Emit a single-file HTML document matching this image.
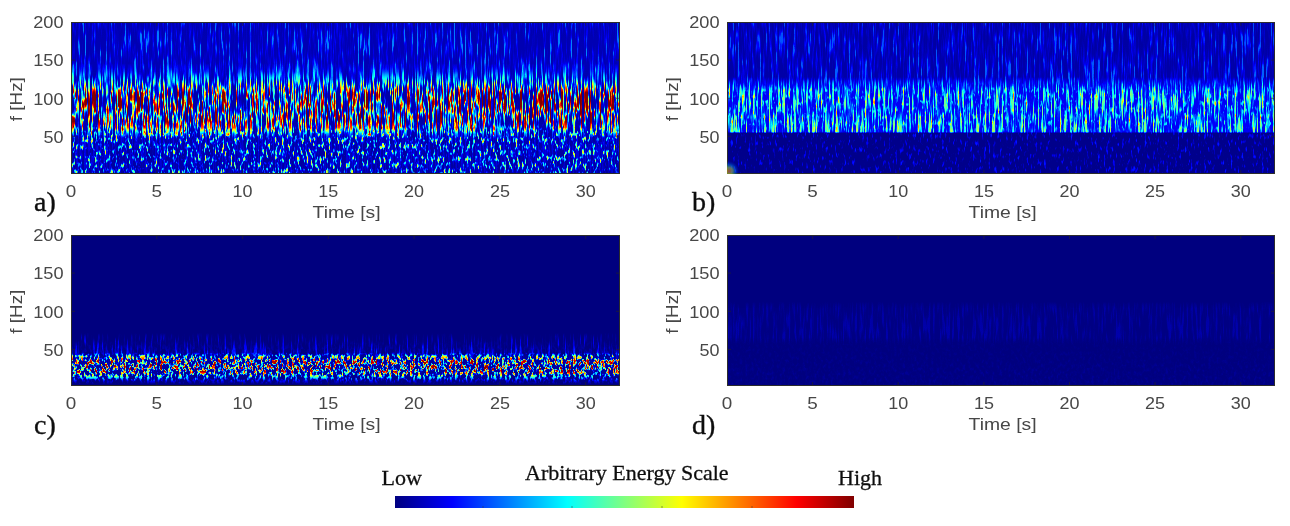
<!DOCTYPE html><html><head><meta charset="utf-8"><style>html,body{margin:0;padding:0;background:#fff;}svg{display:block}</style></head><body>
<svg width="1290" height="526" viewBox="0 0 1290 526">
<defs>
<linearGradient id="jet" x1="0" x2="1" y1="0" y2="0"><stop offset="0" stop-color="#000080"/><stop offset="0.125" stop-color="#0000ff"/><stop offset="0.375" stop-color="#00ffff"/><stop offset="0.625" stop-color="#ffff00"/><stop offset="0.875" stop-color="#ff0000"/><stop offset="1" stop-color="#800000"/></linearGradient>
<linearGradient id="enva" gradientUnits="userSpaceOnUse" x1="0" y1="22" x2="0" y2="174">
<stop offset="0.0000" stop-color="rgb(0,61,0)"/>
<stop offset="0.2720" stop-color="rgb(0,66,0)"/>
<stop offset="0.3274" stop-color="rgb(36,56,0)"/>
<stop offset="0.3777" stop-color="rgb(97,36,0)"/>
<stop offset="0.4230" stop-color="rgb(184,13,0)"/>
<stop offset="0.4633" stop-color="rgb(255,0,0)"/>
<stop offset="0.6547" stop-color="rgb(255,0,0)"/>
<stop offset="0.6950" stop-color="rgb(204,0,76)"/>
<stop offset="0.7302" stop-color="rgb(76,0,166)"/>
<stop offset="0.7655" stop-color="rgb(20,0,153)"/>
<stop offset="1.0000" stop-color="rgb(13,0,140)"/>
</linearGradient>
<filter id="spa" filterUnits="userSpaceOnUse" x="71" y="22" width="549" height="152" color-interpolation-filters="sRGB"><feTurbulence type="fractalNoise" baseFrequency="0.52 0.035" numOctaves="3" seed="3" result="n1"/><feColorMatrix in="n1" type="matrix" values="3.6 0 0 0 -1.400  0 3.0 0 0 -1.200  0 0 0 0 0  0 0 0 0 1" result="c1"/><feComponentTransfer in="c1" result="p1"><feFuncR type="table" tableValues="0.04 0.06 0.11 0.22 0.38 0.58 0.8 0.95 1"/><feFuncG type="table" tableValues="0.2 0.22 0.25 0.3 0.38 0.5 0.7 1"/></feComponentTransfer><feTurbulence type="fractalNoise" baseFrequency="0.45 0.16" numOctaves="2" seed="7" result="n2"/><feColorMatrix in="n2" type="matrix" values="0 0 0 0 0  0 0 0 0 0  4.0 0 0 0 -2.000  0 0 0 0 1" result="c2"/><feComponentTransfer in="c2" result="p2"><feFuncB type="table" tableValues="0.05 0.1 0.18 0.3 0.46 0.64 0.82 1"/></feComponentTransfer><feComposite in="p1" in2="p2" operator="arithmetic" k1="0" k2="1" k3="1" k4="0" result="q"/><feComposite in="q" in2="SourceGraphic" operator="arithmetic" k1="1" k2="0" k3="0" k4="0" result="m"/><feColorMatrix in="m" type="matrix" values="1 1 1 0 0  1 1 1 0 0  1 1 1 0 0  0 0 0 0 1" result="v"/><feComponentTransfer in="v"><feFuncR type="table" tableValues="0 0 0 0 0.5 1 1 1 0.5"/><feFuncG type="table" tableValues="0 0 0.5 1 1 1 0.5 0 0"/><feFuncB type="table" tableValues="0.5 1 1 1 0.5 0 0 0 0"/><feFuncA type="linear" slope="0" intercept="1"/></feComponentTransfer><feGaussianBlur stdDeviation="0.6 0.4"/></filter>
<linearGradient id="envb" gradientUnits="userSpaceOnUse" x1="0" y1="22" x2="0" y2="174">
<stop offset="0.0000" stop-color="rgb(0,51,0)"/>
<stop offset="0.3626" stop-color="rgb(0,56,0)"/>
<stop offset="0.4029" stop-color="rgb(71,26,13)"/>
<stop offset="0.4533" stop-color="rgb(115,0,76)"/>
<stop offset="0.6849" stop-color="rgb(120,0,76)"/>
<stop offset="0.7202" stop-color="rgb(133,0,26)"/>
<stop offset="0.7328" stop-color="rgb(0,0,38)"/>
<stop offset="1.0000" stop-color="rgb(0,0,38)"/>
</linearGradient>
<filter id="spb" filterUnits="userSpaceOnUse" x="727" y="22" width="548" height="152" color-interpolation-filters="sRGB"><feTurbulence type="fractalNoise" baseFrequency="0.55 0.035" numOctaves="3" seed="11" result="n1"/><feColorMatrix in="n1" type="matrix" values="3.6 0 0 0 -1.500  0 3.0 0 0 -1.150  0 0 0 0 0  0 0 0 0 1" result="c1"/><feComponentTransfer in="c1" result="p1"><feFuncR type="table" tableValues="0.2 0.22 0.28 0.4 0.56 0.7 0.85 1"/><feFuncG type="table" tableValues="0.18 0.2 0.24 0.3 0.38 0.5 0.7 1"/></feComponentTransfer><feTurbulence type="fractalNoise" baseFrequency="0.45 0.15" numOctaves="2" seed="13" result="n2"/><feColorMatrix in="n2" type="matrix" values="0 0 0 0 0  0 0 0 0 0  4.0 0 0 0 -2.200  0 0 0 0 1" result="c2"/><feComponentTransfer in="c2" result="p2"><feFuncB type="table" tableValues="0.08 0.15 0.3 0.5 0.7 0.85 1"/></feComponentTransfer><feComposite in="p1" in2="p2" operator="arithmetic" k1="0" k2="1" k3="1" k4="0" result="q"/><feComposite in="q" in2="SourceGraphic" operator="arithmetic" k1="1" k2="0" k3="0" k4="0" result="m"/><feColorMatrix in="m" type="matrix" values="1 1 1 0 0  1 1 1 0 0  1 1 1 0 0  0 0 0 0 1" result="v"/><feComponentTransfer in="v"><feFuncR type="table" tableValues="0 0 0 0 0.5 1 1 1 0.5"/><feFuncG type="table" tableValues="0 0 0.5 1 1 1 0.5 0 0"/><feFuncB type="table" tableValues="0.5 1 1 1 0.5 0 0 0 0"/><feFuncA type="linear" slope="0" intercept="1"/></feComponentTransfer><feGaussianBlur stdDeviation="0.6 0.4"/></filter>
<linearGradient id="envc" gradientUnits="userSpaceOnUse" x1="0" y1="235" x2="0" y2="386">
<stop offset="0.0000" stop-color="rgb(0,0,0)"/>
<stop offset="0.6489" stop-color="rgb(0,0,0)"/>
<stop offset="0.6996" stop-color="rgb(0,26,0)"/>
<stop offset="0.7807" stop-color="rgb(0,36,13)"/>
<stop offset="0.8010" stop-color="rgb(0,20,153)"/>
<stop offset="0.8314" stop-color="rgb(0,8,242)"/>
<stop offset="0.9024" stop-color="rgb(0,0,255)"/>
<stop offset="0.9277" stop-color="rgb(0,0,166)"/>
<stop offset="0.9480" stop-color="rgb(0,0,89)"/>
<stop offset="0.9683" stop-color="rgb(0,0,31)"/>
<stop offset="0.9886" stop-color="rgb(0,0,0)"/>
<stop offset="1.0000" stop-color="rgb(0,0,0)"/>
</linearGradient>
<filter id="spc" filterUnits="userSpaceOnUse" x="71" y="235" width="549" height="151" color-interpolation-filters="sRGB"><feTurbulence type="fractalNoise" baseFrequency="0.45 0.035" numOctaves="3" seed="17" result="n1"/><feColorMatrix in="n1" type="matrix" values="3.0 0 0 0 -1.100  0 4.0 0 0 -1.800  0 0 0 0 0  0 0 0 0 1" result="c1"/><feComponentTransfer in="c1" result="p1"><feFuncR type="table" tableValues="0 0.1 0.3 0.6 1"/><feFuncG type="table" tableValues="0 0 0.05 0.15 0.35 0.6 1"/></feComponentTransfer><feTurbulence type="fractalNoise" baseFrequency="0.38 0.2" numOctaves="2" seed="19" result="n2"/><feColorMatrix in="n2" type="matrix" values="0 0 0 0 0  0 0 0 0 0  4.0 0 0 0 -1.780  0 0 0 0 1" result="c2"/><feComponentTransfer in="c2" result="p2"><feFuncB type="table" tableValues="0.03 0.1 0.26 0.44 0.64 0.84 0.95 1"/></feComponentTransfer><feComposite in="p1" in2="p2" operator="arithmetic" k1="0" k2="1" k3="1" k4="0" result="q"/><feComposite in="q" in2="SourceGraphic" operator="arithmetic" k1="1" k2="0" k3="0" k4="0" result="m"/><feColorMatrix in="m" type="matrix" values="1 1 1 0 0  1 1 1 0 0  1 1 1 0 0  0 0 0 0 1" result="v"/><feComponentTransfer in="v"><feFuncR type="table" tableValues="0 0 0 0 0.5 1 1 1 0.5"/><feFuncG type="table" tableValues="0 0 0.5 1 1 1 0.5 0 0"/><feFuncB type="table" tableValues="0.5 1 1 1 0.5 0 0 0 0"/><feFuncA type="linear" slope="0" intercept="1"/></feComponentTransfer><feGaussianBlur stdDeviation="0.6 0.4"/></filter>
<linearGradient id="envd" gradientUnits="userSpaceOnUse" x1="0" y1="235" x2="0" y2="386">
<stop offset="0.0000" stop-color="rgb(0,0,0)"/>
<stop offset="0.4410" stop-color="rgb(0,0,0)"/>
<stop offset="0.4867" stop-color="rgb(9,0,0)"/>
<stop offset="0.6793" stop-color="rgb(11,0,0)"/>
<stop offset="0.7097" stop-color="rgb(3,0,1)"/>
<stop offset="0.7300" stop-color="rgb(0,0,2)"/>
<stop offset="0.9125" stop-color="rgb(0,0,5)"/>
<stop offset="1.0000" stop-color="rgb(0,0,5)"/>
</linearGradient>
<filter id="spd" filterUnits="userSpaceOnUse" x="727" y="235" width="548" height="151" color-interpolation-filters="sRGB"><feTurbulence type="fractalNoise" baseFrequency="0.45 0.035" numOctaves="3" seed="23" result="n1"/><feColorMatrix in="n1" type="matrix" values="3.4 0 0 0 -1.300  0 4.0 0 0 -1.800  0 0 0 0 0  0 0 0 0 1" result="c1"/><feComponentTransfer in="c1" result="p1"><feFuncR type="table" tableValues="0.06 0.1 0.2 0.38 0.65 1"/><feFuncG type="table" tableValues="0 1"/></feComponentTransfer><feTurbulence type="fractalNoise" baseFrequency="0.35 0.25" numOctaves="2" seed="29" result="n2"/><feColorMatrix in="n2" type="matrix" values="0 0 0 0 0  0 0 0 0 0  3.5 0 0 0 -1.550  0 0 0 0 1" result="c2"/><feComponentTransfer in="c2" result="p2"><feFuncB type="table" tableValues="0.05 0.2 0.5 1"/></feComponentTransfer><feComposite in="p1" in2="p2" operator="arithmetic" k1="0" k2="1" k3="1" k4="0" result="q"/><feComposite in="q" in2="SourceGraphic" operator="arithmetic" k1="1" k2="0" k3="0" k4="0" result="m"/><feColorMatrix in="m" type="matrix" values="1 1 1 0 0  1 1 1 0 0  1 1 1 0 0  0 0 0 0 1" result="v"/><feComponentTransfer in="v"><feFuncR type="table" tableValues="0 0 0 0 0.5 1 1 1 0.5"/><feFuncG type="table" tableValues="0 0 0.5 1 1 1 0.5 0 0"/><feFuncB type="table" tableValues="0.5 1 1 1 0.5 0 0 0 0"/><feFuncA type="linear" slope="0" intercept="1"/></feComponentTransfer><feGaussianBlur stdDeviation="0.6 0.4"/></filter>
<filter id="soft" x="-2%" y="-2%" width="104%" height="104%"><feGaussianBlur stdDeviation="0.35"/></filter>
</defs>
<rect width="1290" height="526" fill="#fff"/>
<rect x="71" y="22" width="549" height="152" fill="url(#enva)" filter="url(#spa)"/>
<path d="M156.8 22v4M156.8 174v-4M242.6 22v4M242.6 174v-4M328.3 22v4M328.3 174v-4M414.1 22v4M414.1 174v-4M499.9 22v4M499.9 174v-4M585.7 22v4M585.7 174v-4M71 60.1h4M620 60.1h-4M71 98.3h4M620 98.3h-4M71 136.4h4M620 136.4h-4" stroke="#262626" stroke-width="1" fill="none" opacity="0.6"/>
<rect x="71.5" y="22.5" width="548" height="151" fill="none" stroke="#2c2c2c" stroke-width="1"/>
<rect x="727" y="22" width="548" height="152" fill="url(#envb)" filter="url(#spb)"/>
<path d="M812.6 22v4M812.6 174v-4M898.2 22v4M898.2 174v-4M983.9 22v4M983.9 174v-4M1069.5 22v4M1069.5 174v-4M1155.1 22v4M1155.1 174v-4M1240.8 22v4M1240.8 174v-4M727 60.1h4M1275 60.1h-4M727 98.3h4M1275 98.3h-4M727 136.4h4M1275 136.4h-4" stroke="#262626" stroke-width="1" fill="none" opacity="0.6"/>
<rect x="727.5" y="22.5" width="547" height="151" fill="none" stroke="#2c2c2c" stroke-width="1"/>
<rect x="71" y="235" width="549" height="151" fill="url(#envc)" filter="url(#spc)"/>
<path d="M156.8 235v4M156.8 386v-4M242.6 235v4M242.6 386v-4M328.3 235v4M328.3 386v-4M414.1 235v4M414.1 386v-4M499.9 235v4M499.9 386v-4M585.7 235v4M585.7 386v-4M71 273.1h4M620 273.1h-4M71 311.3h4M620 311.3h-4M71 349.4h4M620 349.4h-4" stroke="#262626" stroke-width="1" fill="none" opacity="0.6"/>
<rect x="71.5" y="235.5" width="548" height="150" fill="none" stroke="#2c2c2c" stroke-width="1"/>
<rect x="727" y="235" width="548" height="151" fill="url(#envd)" filter="url(#spd)"/>
<path d="M812.6 235v4M812.6 386v-4M898.2 235v4M898.2 386v-4M983.9 235v4M983.9 386v-4M1069.5 235v4M1069.5 386v-4M1155.1 235v4M1155.1 386v-4M1240.8 235v4M1240.8 386v-4M727 273.1h4M1275 273.1h-4M727 311.3h4M1275 311.3h-4M727 349.4h4M1275 349.4h-4" stroke="#262626" stroke-width="1" fill="none" opacity="0.6"/>
<rect x="727.5" y="235.5" width="547" height="150" fill="none" stroke="#2c2c2c" stroke-width="1"/>
<radialGradient id="cb" cx="729" cy="171" r="10" gradientUnits="userSpaceOnUse"><stop offset="0" stop-color="#ff8000" stop-opacity="0.6"/><stop offset="0.35" stop-color="#c0ff40" stop-opacity="0.45"/><stop offset="0.65" stop-color="#00c0ff" stop-opacity="0.3"/><stop offset="1" stop-color="#0040ff" stop-opacity="0"/></radialGradient>
<rect x="727" y="158" width="16" height="16" fill="url(#cb)"/>
<rect x="395" y="496" width="459" height="12" fill="url(#jet)"/>
<path d="M483 508v-2M572 508v-2M662 508v-2M752 508v-2" stroke="#333" stroke-width="1" opacity="0.5"/>
<g filter="url(#soft)"><text x="63.5" y="28.2" text-anchor="end" font-family="Liberation Sans, sans-serif" font-size="16.6" fill="#474747" textLength="30.3" lengthAdjust="spacingAndGlyphs">200</text><text x="63.5" y="66.3" text-anchor="end" font-family="Liberation Sans, sans-serif" font-size="16.6" fill="#474747" textLength="30.3" lengthAdjust="spacingAndGlyphs">150</text><text x="63.5" y="104.5" text-anchor="end" font-family="Liberation Sans, sans-serif" font-size="16.6" fill="#474747" textLength="30.3" lengthAdjust="spacingAndGlyphs">100</text><text x="63.5" y="142.6" text-anchor="end" font-family="Liberation Sans, sans-serif" font-size="16.6" fill="#474747" textLength="20.0" lengthAdjust="spacingAndGlyphs">50</text><text x="71.0" y="197.4" text-anchor="middle" font-family="Liberation Sans, sans-serif" font-size="16.6" fill="#474747" textLength="10.5" lengthAdjust="spacingAndGlyphs">0</text><text x="156.8" y="197.4" text-anchor="middle" font-family="Liberation Sans, sans-serif" font-size="16.6" fill="#474747" textLength="10.5" lengthAdjust="spacingAndGlyphs">5</text><text x="242.6" y="197.4" text-anchor="middle" font-family="Liberation Sans, sans-serif" font-size="16.6" fill="#474747" textLength="20.0" lengthAdjust="spacingAndGlyphs">10</text><text x="328.3" y="197.4" text-anchor="middle" font-family="Liberation Sans, sans-serif" font-size="16.6" fill="#474747" textLength="20.0" lengthAdjust="spacingAndGlyphs">15</text><text x="414.1" y="197.4" text-anchor="middle" font-family="Liberation Sans, sans-serif" font-size="16.6" fill="#474747" textLength="20.0" lengthAdjust="spacingAndGlyphs">20</text><text x="499.9" y="197.4" text-anchor="middle" font-family="Liberation Sans, sans-serif" font-size="16.6" fill="#474747" textLength="20.0" lengthAdjust="spacingAndGlyphs">25</text><text x="585.7" y="197.4" text-anchor="middle" font-family="Liberation Sans, sans-serif" font-size="16.6" fill="#474747" textLength="20.0" lengthAdjust="spacingAndGlyphs">30</text><text x="312.6" y="218.3" font-family="Liberation Sans, sans-serif" font-size="17.0" fill="#474747" textLength="68" lengthAdjust="spacingAndGlyphs">Time [s]</text><text transform="translate(22.4,99.2) rotate(-90)" x="0" y="0" text-anchor="middle" font-family="Liberation Sans, sans-serif" font-size="17.0" fill="#474747" textLength="44" lengthAdjust="spacingAndGlyphs">f [Hz]</text><text x="34" y="210.8" font-family="Liberation Serif, serif" font-size="28" fill="#111" stroke="#111" stroke-width="0.35">a)</text><text x="719.5" y="28.2" text-anchor="end" font-family="Liberation Sans, sans-serif" font-size="16.6" fill="#474747" textLength="30.3" lengthAdjust="spacingAndGlyphs">200</text><text x="719.5" y="66.3" text-anchor="end" font-family="Liberation Sans, sans-serif" font-size="16.6" fill="#474747" textLength="30.3" lengthAdjust="spacingAndGlyphs">150</text><text x="719.5" y="104.5" text-anchor="end" font-family="Liberation Sans, sans-serif" font-size="16.6" fill="#474747" textLength="30.3" lengthAdjust="spacingAndGlyphs">100</text><text x="719.5" y="142.6" text-anchor="end" font-family="Liberation Sans, sans-serif" font-size="16.6" fill="#474747" textLength="20.0" lengthAdjust="spacingAndGlyphs">50</text><text x="727.0" y="197.4" text-anchor="middle" font-family="Liberation Sans, sans-serif" font-size="16.6" fill="#474747" textLength="10.5" lengthAdjust="spacingAndGlyphs">0</text><text x="812.6" y="197.4" text-anchor="middle" font-family="Liberation Sans, sans-serif" font-size="16.6" fill="#474747" textLength="10.5" lengthAdjust="spacingAndGlyphs">5</text><text x="898.2" y="197.4" text-anchor="middle" font-family="Liberation Sans, sans-serif" font-size="16.6" fill="#474747" textLength="20.0" lengthAdjust="spacingAndGlyphs">10</text><text x="983.9" y="197.4" text-anchor="middle" font-family="Liberation Sans, sans-serif" font-size="16.6" fill="#474747" textLength="20.0" lengthAdjust="spacingAndGlyphs">15</text><text x="1069.5" y="197.4" text-anchor="middle" font-family="Liberation Sans, sans-serif" font-size="16.6" fill="#474747" textLength="20.0" lengthAdjust="spacingAndGlyphs">20</text><text x="1155.1" y="197.4" text-anchor="middle" font-family="Liberation Sans, sans-serif" font-size="16.6" fill="#474747" textLength="20.0" lengthAdjust="spacingAndGlyphs">25</text><text x="1240.8" y="197.4" text-anchor="middle" font-family="Liberation Sans, sans-serif" font-size="16.6" fill="#474747" textLength="20.0" lengthAdjust="spacingAndGlyphs">30</text><text x="968.6" y="218.3" font-family="Liberation Sans, sans-serif" font-size="17.0" fill="#474747" textLength="68" lengthAdjust="spacingAndGlyphs">Time [s]</text><text transform="translate(678.4,99.2) rotate(-90)" x="0" y="0" text-anchor="middle" font-family="Liberation Sans, sans-serif" font-size="17.0" fill="#474747" textLength="44" lengthAdjust="spacingAndGlyphs">f [Hz]</text><text x="692" y="210.8" font-family="Liberation Serif, serif" font-size="28" fill="#111" stroke="#111" stroke-width="0.35">b)</text><text x="63.5" y="241.2" text-anchor="end" font-family="Liberation Sans, sans-serif" font-size="16.6" fill="#474747" textLength="30.3" lengthAdjust="spacingAndGlyphs">200</text><text x="63.5" y="279.3" text-anchor="end" font-family="Liberation Sans, sans-serif" font-size="16.6" fill="#474747" textLength="30.3" lengthAdjust="spacingAndGlyphs">150</text><text x="63.5" y="317.5" text-anchor="end" font-family="Liberation Sans, sans-serif" font-size="16.6" fill="#474747" textLength="30.3" lengthAdjust="spacingAndGlyphs">100</text><text x="63.5" y="355.6" text-anchor="end" font-family="Liberation Sans, sans-serif" font-size="16.6" fill="#474747" textLength="20.0" lengthAdjust="spacingAndGlyphs">50</text><text x="71.0" y="409.4" text-anchor="middle" font-family="Liberation Sans, sans-serif" font-size="16.6" fill="#474747" textLength="10.5" lengthAdjust="spacingAndGlyphs">0</text><text x="156.8" y="409.4" text-anchor="middle" font-family="Liberation Sans, sans-serif" font-size="16.6" fill="#474747" textLength="10.5" lengthAdjust="spacingAndGlyphs">5</text><text x="242.6" y="409.4" text-anchor="middle" font-family="Liberation Sans, sans-serif" font-size="16.6" fill="#474747" textLength="20.0" lengthAdjust="spacingAndGlyphs">10</text><text x="328.3" y="409.4" text-anchor="middle" font-family="Liberation Sans, sans-serif" font-size="16.6" fill="#474747" textLength="20.0" lengthAdjust="spacingAndGlyphs">15</text><text x="414.1" y="409.4" text-anchor="middle" font-family="Liberation Sans, sans-serif" font-size="16.6" fill="#474747" textLength="20.0" lengthAdjust="spacingAndGlyphs">20</text><text x="499.9" y="409.4" text-anchor="middle" font-family="Liberation Sans, sans-serif" font-size="16.6" fill="#474747" textLength="20.0" lengthAdjust="spacingAndGlyphs">25</text><text x="585.7" y="409.4" text-anchor="middle" font-family="Liberation Sans, sans-serif" font-size="16.6" fill="#474747" textLength="20.0" lengthAdjust="spacingAndGlyphs">30</text><text x="312.6" y="430.3" font-family="Liberation Sans, sans-serif" font-size="17.0" fill="#474747" textLength="68" lengthAdjust="spacingAndGlyphs">Time [s]</text><text transform="translate(22.4,311.7) rotate(-90)" x="0" y="0" text-anchor="middle" font-family="Liberation Sans, sans-serif" font-size="17.0" fill="#474747" textLength="44" lengthAdjust="spacingAndGlyphs">f [Hz]</text><text x="34" y="433.6" font-family="Liberation Serif, serif" font-size="28" fill="#111" stroke="#111" stroke-width="0.35">c)</text><text x="719.5" y="241.2" text-anchor="end" font-family="Liberation Sans, sans-serif" font-size="16.6" fill="#474747" textLength="30.3" lengthAdjust="spacingAndGlyphs">200</text><text x="719.5" y="279.3" text-anchor="end" font-family="Liberation Sans, sans-serif" font-size="16.6" fill="#474747" textLength="30.3" lengthAdjust="spacingAndGlyphs">150</text><text x="719.5" y="317.5" text-anchor="end" font-family="Liberation Sans, sans-serif" font-size="16.6" fill="#474747" textLength="30.3" lengthAdjust="spacingAndGlyphs">100</text><text x="719.5" y="355.6" text-anchor="end" font-family="Liberation Sans, sans-serif" font-size="16.6" fill="#474747" textLength="20.0" lengthAdjust="spacingAndGlyphs">50</text><text x="727.0" y="409.4" text-anchor="middle" font-family="Liberation Sans, sans-serif" font-size="16.6" fill="#474747" textLength="10.5" lengthAdjust="spacingAndGlyphs">0</text><text x="812.6" y="409.4" text-anchor="middle" font-family="Liberation Sans, sans-serif" font-size="16.6" fill="#474747" textLength="10.5" lengthAdjust="spacingAndGlyphs">5</text><text x="898.2" y="409.4" text-anchor="middle" font-family="Liberation Sans, sans-serif" font-size="16.6" fill="#474747" textLength="20.0" lengthAdjust="spacingAndGlyphs">10</text><text x="983.9" y="409.4" text-anchor="middle" font-family="Liberation Sans, sans-serif" font-size="16.6" fill="#474747" textLength="20.0" lengthAdjust="spacingAndGlyphs">15</text><text x="1069.5" y="409.4" text-anchor="middle" font-family="Liberation Sans, sans-serif" font-size="16.6" fill="#474747" textLength="20.0" lengthAdjust="spacingAndGlyphs">20</text><text x="1155.1" y="409.4" text-anchor="middle" font-family="Liberation Sans, sans-serif" font-size="16.6" fill="#474747" textLength="20.0" lengthAdjust="spacingAndGlyphs">25</text><text x="1240.8" y="409.4" text-anchor="middle" font-family="Liberation Sans, sans-serif" font-size="16.6" fill="#474747" textLength="20.0" lengthAdjust="spacingAndGlyphs">30</text><text x="968.6" y="430.3" font-family="Liberation Sans, sans-serif" font-size="17.0" fill="#474747" textLength="68" lengthAdjust="spacingAndGlyphs">Time [s]</text><text transform="translate(678.4,311.7) rotate(-90)" x="0" y="0" text-anchor="middle" font-family="Liberation Sans, sans-serif" font-size="17.0" fill="#474747" textLength="44" lengthAdjust="spacingAndGlyphs">f [Hz]</text><text x="692" y="433.6" font-family="Liberation Serif, serif" font-size="28" fill="#111" stroke="#111" stroke-width="0.35">d)</text><text x="381.5" y="485" font-family="Liberation Serif, serif" font-size="22" fill="#111" stroke="#111" stroke-width="0.3">Low</text><text x="838" y="484.6" font-family="Liberation Serif, serif" font-size="22" fill="#111" stroke="#111" stroke-width="0.3">High</text><text x="525" y="479.6" font-family="Liberation Serif, serif" font-size="22" fill="#111" stroke="#111" stroke-width="0.3">Arbitrary Energy Scale</text></g>
</svg></body></html>
